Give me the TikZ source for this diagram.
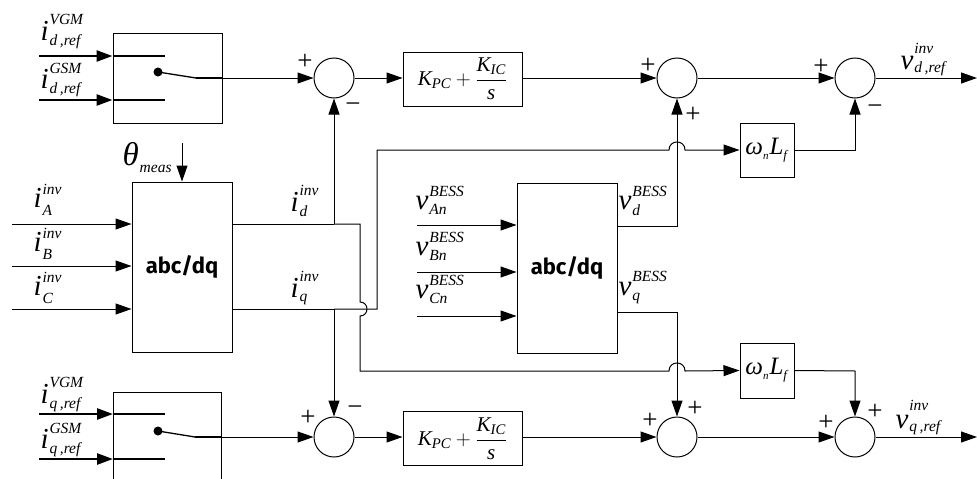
\documentclass[tikz,border=0pt]{standalone}
\usepackage{amsmath}
\usepackage{fontspec}
\setmainfont{Liberation Serif}
\newfontfamily\blockfont{Fira Sans}
\usetikzlibrary{arrows.meta}
\newcommand\mi[1]{\textit{#1}}
\newcommand\scr{\fontsize{15.5}{16}\selectfont}
\newsavebox\supbox
\newsavebox\subbox
% base, superscript, subscript, raise, lower
\newcommand\lab[5]{%
  \sbox\supbox{\scr\mi{#2}}\sbox\subbox{\scr\mi{#3}}%
  \mi{#1}\kern1pt\rlap{\raisebox{#4}{\usebox\supbox}}\raisebox{-#5}{\usebox\subbox}%
  \ifdim\wd\supbox>\wd\subbox\kern\dimexpr\wd\supbox-\wd\subbox\relax\fi}
\newcommand\wL{\mi{ω}\raisebox{-5pt}{\fontsize{11}{11}\selectfont\mi{n}}\kern1pt\mi{L}\raisebox{-5pt}{\fontsize{13}{13}\selectfont\mi{f}}}
\begin{document}
\begin{tikzpicture}[x=1pt,y=-1pt,line width=1pt,
  arr/.style={-{Triangle[length=16pt,width=11pt]}},
  sumc/.style={circle,draw,minimum size=40pt,inner sep=0pt},
  blk/.style={rectangle,draw,inner sep=0pt},
  thickline/.style={line width=2.5pt},
  lbl/.style={inner sep=0pt,anchor=base west,font=\fontsize{29}{30}\selectfont},
  pilbl/.style={font=\fontsize{21}{24}\selectfont},
  omlbl/.style={font=\fontsize{25}{28}\selectfont},
  sgn/.style={inner sep=0pt,font=\fontsize{27}{28}\selectfont},
  conv/.style={blk,minimum width=100pt,minimum height=170pt,font=\blockfont\bfseries\fontsize{22}{24}\selectfont},
]
\useasboundingbox (0,0) rectangle (977,479);
% ---- blocks
\node[blk,minimum width=109pt,minimum height=90pt] (sw1) at (167.5,78) {};
\node[sumc] (s1) at (334,78) {};
\node[sumc] (s2) at (677,78) {};
\node[sumc] (s3) at (855,78) {};
\node[sumc] (s4) at (334,437) {};
\node[sumc] (s5) at (677,437) {};
\node[sumc] (s6) at (855,437) {};
\node[blk,minimum width=119pt,minimum height=54pt,pilbl] (pi1) at (462.5,79) {$\mi{K}_{\mi{PC}}+\dfrac{\mi{K}_{\mi{IC}}}{\mi{s}}$};
\node[blk,minimum width=119pt,minimum height=54pt,pilbl] (pi2) at (462.5,438.5) {$\mi{K}_{\mi{PC}}+\dfrac{\mi{K}_{\mi{IC}}}{\mi{s}}$};
\node[conv] (abc1) at (182,267) {abc/dq};
\node[conv] (abc2) at (567,268) {abc/dq};
\node[blk,minimum width=54pt,minimum height=54pt,omlbl] (om1) at (767,150) {\wL};
\node[blk,minimum width=54pt,minimum height=55pt,omlbl] (om2) at (767,370.5) {\wL};
% bottom switch box (open at the bottom)
\coordinate (sw2bl) at (113,479);
\coordinate (sw2tl) at (113,392);
\coordinate (sw2tr) at (221,392);
\coordinate (sw2br) at (221,479);
\draw (sw2bl) -- (sw2tl) -- (sw2tr) -- (sw2br);
% ---- switch 1
\coordinate (a1) at (39,56);  \coordinate (a1e) at (165,56);
\coordinate (b1) at (39,100); \coordinate (b1e) at (165,100);
\draw[thickline,arr] (a1) -- (sw1.west |- a1);
\draw[thickline] (sw1.west |- a1) -- (a1e);
\draw[thickline,arr] (b1) -- (sw1.west |- b1);
\draw[thickline] (sw1.west |- b1) -- (b1e);
\coordinate (p1) at (158,72); \coordinate (k1) at (196,78);
\fill (p1) circle (4.5pt);
\draw[line width=1.3pt] (p1) -- (k1);
\draw[thickline] (k1) -- (sw1.east |- k1);
\draw[arr] (sw1.east |- k1) -- (s1.west);
% ---- switch 2
\coordinate (a2) at (39,414);  \coordinate (a2e) at (165,414);
\coordinate (b2) at (39,459); \coordinate (b2e) at (165,459);
\draw[thickline,arr] (a2) -- (sw2tl |- a2);
\draw[thickline] (sw2tl |- a2) -- (a2e);
\draw[thickline,arr] (b2) -- (sw2tl |- b2);
\draw[thickline] (sw2tl |- b2) -- (b2e);
\coordinate (p2) at (158,431); \coordinate (k2) at (195,437);
\fill (p2) circle (4.5pt);
\draw[line width=1.3pt] (p2) -- (k2);
\draw[thickline] (k2) -- (sw2tr |- k2);
\draw[arr] (sw2tr |- k2) -- (s4.west);
% ---- main forward paths
\draw[arr] (s1.east) -- (pi1.west |- s1.east);
\draw[arr] (pi1.east |- s2.west) -- (s2.west);
\draw[arr] (s2.east) -- (s3.west);
\coordinate (outd) at (977,78);
\draw[arr] (s3.east) -- (outd);
\draw[arr] (s4.east) -- (pi2.west |- s4.east);
\draw[arr] (pi2.east |- s5.west) -- (s5.west);
\draw[arr] (s5.east) -- (s6.west);
\coordinate (outq) at (977,437);
\draw[arr] (s6.east) -- (outq);
% ---- abc/dq 1 inputs
\coordinate (iA) at (12,224); \coordinate (iB) at (12,266); \coordinate (iC) at (12,309);
\draw[arr] (iA) -- (abc1.west |- iA);
\draw[arr] (iB) -- (abc1.west |- iB);
\draw[arr] (iC) -- (abc1.west |- iC);
\coordinate (th) at (182,143);
\draw[arr] (th) -- (abc1.north);
% ---- abc/dq 2 inputs
\coordinate (vA) at (417,225); \coordinate (vB) at (417,272); \coordinate (vC) at (417,316);
\draw[arr] (vA) -- (abc2.west |- vA);
\draw[arr] (vB) -- (abc2.west |- vB);
\draw[arr] (vC) -- (abc2.west |- vC);
% ---- i_d, i_q
\coordinate (jd) at (334,224);
\coordinate (jq) at (334,309);
\draw (abc1.east |- jd) -- (jd);
\draw[arr] (jd) -- (s1.south);
\draw (abc1.east |- jq) -- (jq);
\draw[arr] (jq) -- (s4.north);
% i_d to lower omega block (hops over i_q and v_q)
\coordinate (d1) at (360,224);
\coordinate (d2) at (360,371);
\draw[arr] (jd) -- (d1) -- (360,302) .. controls (369.3,302) and (369.3,316) .. (360,316) -- (d2)
  -- (669,371) .. controls (669,360.3) and (685,360.3) .. (685,371) -- (om2.west);
% i_q to upper omega block (hops over v_d)
\coordinate (q1) at (377,309);
\coordinate (q2) at (377,150);
\draw[arr] (jq) -- (q1) -- (q2) -- (669,150) .. controls (669,139.3) and (685,139.3) .. (685,150) -- (om1.west);
% ---- v_d, v_q
\coordinate (vd) at (677,226);
\coordinate (vq) at (677,312);
\draw[arr] (abc2.east |- vd) -- (vd) -- (s2.south);
\draw[arr] (abc2.east |- vq) -- (vq) -- (s5.north);
% ---- omega outputs
\coordinate (o1) at (855,150);
\coordinate (o2) at (855,371);
\draw[arr] (om1.east) -- (o1) -- (s3.south);
\draw[arr] (om2.east) -- (o2) -- (s6.north);
% ---- labels
\node[lbl] (l1) at (40,40) {\lab{i}{VGM}{d\,,ref}{16pt}{5pt}};
\node[lbl] (l2) at (40,88) {\lab{i}{GSM}{d\,,ref}{15pt}{5pt}};
\node[lbl] (l3) at (40,403) {\lab{i}{VGM}{q\,,ref}{16pt}{5pt}};
\node[lbl] (l4) at (40,448) {\lab{i}{GSM}{q\,,ref}{15pt}{5pt}};
\node[lbl,font=\fontsize{33}{34}\selectfont] (l5) at (122,165) {\lab{θ}{}{meas}{0pt}{7pt}};
\node[lbl] (l6) at (33,207) {\lab{i}{inv}{A}{13pt}{8pt}};
\node[lbl] (l7) at (33,251) {\lab{i}{inv}{B}{13pt}{8pt}};
\node[lbl] (l8) at (33,295) {\lab{i}{inv}{C}{13pt}{8pt}};
\node[lbl] (l9) at (290,211) {\lab{i}{inv}{d}{16pt}{5pt}};
\node[lbl] (l10) at (290,297) {\lab{i}{inv}{q}{16pt}{4pt}};
\node[lbl] (l11) at (415,209) {\lab{v}{BESS}{An}{13pt}{5pt}};
\node[lbl] (l12) at (415,255) {\lab{v}{BESS}{Bn}{13pt}{5pt}};
\node[lbl] (l13) at (415,298) {\lab{v}{BESS}{Cn}{13pt}{5pt}};
\node[lbl] (l14) at (618,209) {\lab{v}{BESS}{d}{13pt}{6pt}};
\node[lbl] (l15) at (618,295) {\lab{v}{BESS}{q}{14pt}{5pt}};
\node[lbl] (l16) at (900,69) {\lab{v}{inv}{d\,,ref}{16pt}{3pt}};
\node[lbl] (l17) at (895,428) {\lab{v}{inv}{q\,,ref}{18pt}{3pt}};
% ---- signs
\node[sgn] at (305,62) {+};
\node[sgn] at (353,108) {−};
\node[sgn] at (308,418) {+};
\node[sgn] at (355,411) {−};
\node[sgn] at (648,66) {+};
\node[sgn] at (693,115) {+};
\node[sgn] at (821,67) {+};
\node[sgn] at (875,110) {−};
\node[sgn] at (650,421) {+};
\node[sgn] at (695,409) {+};
\node[sgn] at (826,423) {+};
\node[sgn] at (875,412) {+};
\end{tikzpicture}
\end{document}
